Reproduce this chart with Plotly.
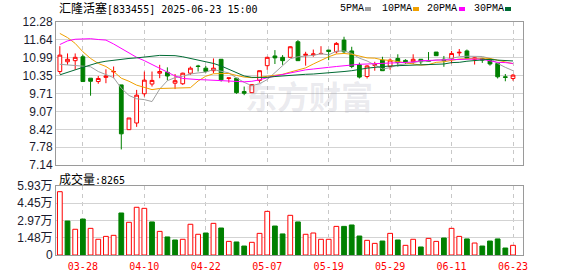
import plotly.graph_objects as go

# ---------------- data ----------------
dates = ["03-25", "03-26", "03-27", "03-28", "03-31", "04-01", "04-02", "04-03", "04-07", "04-08",
         "04-09", "04-10", "04-11", "04-14", "04-15", "04-16", "04-17", "04-18", "04-21", "04-22",
         "04-23", "04-24", "04-25", "04-28", "04-29", "04-30", "05-06", "05-07", "05-08", "05-09",
         "05-12", "05-13", "05-14", "05-15", "05-16", "05-19", "05-20", "05-21", "05-22", "05-23",
         "05-26", "05-27", "05-28", "05-29", "05-30", "06-03", "06-04", "06-05", "06-06", "06-09",
         "06-10", "06-11", "06-12", "06-13", "06-16", "06-17", "06-18", "06-19", "06-20", "06-23"]

opens = [10.50, 10.85, 10.89, 11.03, 10.26, 10.14, 10.29, 10.49, 10.02, 8.41,
         8.65, 9.70, 10.05, 10.44, 10.47, 10.08, 10.06, 10.44, 10.70, 10.62,
         10.53, 10.94, 10.25, 10.26, 9.78, 9.74, 10.18, 10.71, 11.06, 11.01,
         11.01, 11.57, 11.08, 11.10, 11.14, 11.27, 11.21, 11.63, 11.24, 10.74,
         10.32, 10.72, 10.91, 10.68, 10.97, 10.90, 10.85, 10.94, 10.89, 11.20,
         10.94, 10.97, 11.17, 11.24, 10.94, 10.97, 10.94, 10.79, 10.31, 10.25]
highs = [11.41, 11.15, 11.15, 11.10, 10.26, 10.34, 10.58, 10.68, 10.02, 8.83,
         9.84, 10.50, 10.50, 10.74, 10.65, 10.41, 10.46, 10.68, 10.74, 10.70,
         10.97, 10.94, 10.27, 10.27, 9.96, 10.03, 10.53, 11.03, 11.27, 11.09,
         11.41, 11.63, 11.21, 11.29, 11.41, 11.27, 11.56, 11.75, 11.39, 10.82,
         10.73, 10.85, 11.03, 10.97, 11.12, 10.94, 11.12, 10.94, 11.20, 11.20,
         11.06, 11.24, 11.31, 11.29, 11.01, 10.99, 10.97, 10.82, 10.41, 10.41]
lows = [10.41, 10.74, 10.56, 10.14, 9.63, 10.06, 10.08, 10.26, 7.70, 8.41,
        8.51, 9.60, 9.96, 10.26, 10.18, 9.87, 10.02, 10.38, 10.50, 10.46,
        10.44, 10.14, 10.10, 9.70, 9.65, 9.74, 10.10, 10.56, 10.77, 10.74,
        11.01, 10.89, 10.71, 11.03, 11.12, 10.91, 11.15, 11.15, 10.62, 10.25,
        10.25, 10.53, 10.53, 10.56, 10.68, 10.77, 10.77, 10.77, 10.85, 11.07,
        10.67, 10.79, 11.06, 10.96, 10.75, 10.81, 10.71, 10.25, 10.15, 10.17]
closes = [11.09, 10.94, 11.01, 10.14, 10.15, 10.25, 10.34, 10.50, 8.26, 8.83,
          9.65, 10.19, 10.18, 10.50, 10.34, 10.17, 10.44, 10.62, 10.68, 10.50,
          10.62, 10.20, 10.27, 9.74, 9.72, 10.03, 10.53, 11.01, 10.99, 10.89,
          11.39, 10.89, 11.12, 11.13, 11.15, 11.22, 11.51, 11.21, 10.68, 10.30,
          10.70, 10.75, 10.53, 10.91, 10.82, 10.85, 10.94, 10.85, 10.87, 11.07,
          10.89, 11.15, 11.19, 10.97, 10.99, 10.91, 10.77, 10.31, 10.29, 10.37]

# volume in 万 (10k shares)
volumes = [5.44, 2.92, 2.21, 3.09, 2.29, 1.35, 1.60, 1.69, 3.61, 2.81,
           4.10, 4.01, 2.84, 2.03, 1.55, 1.29, 1.35, 2.64, 1.78, 1.89,
           2.72, 2.32, 1.17, 1.12, 0.77, 1.09, 1.86, 3.75, 2.49, 1.81,
           3.41, 2.84, 1.78, 1.89, 1.35, 1.35, 2.46, 2.46, 2.58, 1.63,
           1.26, 1.00, 1.20, 1.86, 1.29, 0.83, 1.35, 0.69, 1.43, 1.17,
           1.46, 2.29, 1.60, 1.38, 1.03, 0.77, 1.20, 1.38, 0.60, 0.83]

ma5 = [10.76, 10.74, 10.72, 10.71, 10.67, 10.50, 10.38, 10.28, 9.90, 9.64,
       9.52, 9.49, 9.42, 9.87, 10.17, 10.28, 10.33, 10.41, 10.45, 10.48,
       10.57, 10.52, 10.45, 10.27, 10.11, 9.99, 10.06, 10.21, 10.46, 10.69,
       10.96, 11.03, 11.06, 11.08, 11.14, 11.10, 11.23, 11.24, 11.15, 10.98,
       10.88, 10.73, 10.59, 10.64, 10.74, 10.77, 10.81, 10.87, 10.87, 10.92,
       10.92, 10.97, 11.03, 11.05, 11.04, 11.04, 10.97, 10.79, 10.65, 10.53]
ma10 = [11.87, 11.72, 11.51, 11.21, 10.97, 10.79, 10.68, 10.50, 10.26, 10.15,
        10.01, 9.93, 9.85, 9.89, 9.90, 9.90, 9.91, 9.92, 10.16, 10.33,
        10.42, 10.43, 10.43, 10.36, 10.30, 10.28, 10.29, 10.33, 10.36, 10.40,
        10.48, 10.55, 10.63, 10.77, 10.91, 11.03, 11.13, 11.15, 11.12, 11.06,
        10.99, 10.98, 10.92, 10.90, 10.86, 10.83, 10.77, 10.73, 10.75, 10.83,
        10.85, 10.89, 10.95, 10.96, 10.98, 10.98, 10.97, 10.91, 10.85, 10.78]
ma20 = [11.47, 11.60, 11.66, 11.68, 11.68, 11.65, 11.63, 11.49, 11.33, 11.15,
        11.01, 10.89, 10.75, 10.60, 10.49, 10.34, 10.25, 10.22, 10.21, 10.20,
        10.19, 10.16, 10.15, 10.14, 10.13, 10.15, 10.20, 10.28, 10.34, 10.40,
        10.46, 10.52, 10.56, 10.59, 10.63, 10.65, 10.68, 10.71, 10.74, 10.76,
        10.77, 10.78, 10.79, 10.81, 10.82, 10.83, 10.84, 10.89, 10.90, 10.91,
        10.93, 10.94, 10.94, 10.95, 10.95, 10.94, 10.88, 10.83, 10.82, 10.79]
ma30 = [10.38, 10.46, 10.56, 10.65, 10.74, 10.82, 10.87, 10.91, 10.95, 10.97,
        10.99, 11.01, 11.05, 11.08, 11.08, 11.07, 11.03, 10.97, 10.91, 10.85,
        10.79, 10.70, 10.58, 10.46, 10.34, 10.29, 10.29, 10.29, 10.32, 10.34,
        10.38, 10.40, 10.40, 10.41, 10.43, 10.44, 10.46, 10.50, 10.53, 10.58,
        10.62, 10.65, 10.68, 10.70, 10.71, 10.72, 10.74, 10.74, 10.74, 10.76,
        10.77, 10.82, 10.83, 10.87, 10.90, 10.93, 10.94, 10.91, 10.90, 10.88]

price_ticks = [7.14, 7.78, 8.42, 9.07, 9.71, 10.35, 10.99, 11.64, 12.28]
price_ticktext = ["7.14", "7.78", "8.42", "9.07", "9.71", "10.35", "10.99", "11.64", "12.28"]
vol_ticks = [0, 1.48, 2.97, 4.45, 5.93]
vol_ticktext = ["0", "1.48万", "2.97万", "4.45万", "5.93万"]
date_ticks = ["03-28", "04-10", "04-22", "05-07", "05-19", "05-29", "06-11", "06-23"]

stock_name = "汇隆活塞"
stock_info = "[833455] 2025-06-23 15:00"
vol_label = "成交量"
vol_last = ":8265"
ma_names = ["5PMA", "10PMA", "20PMA", "30PMA"]

# ---------------- styles ----------------
RED = "#FF0000"
GREEN = "#008000"
MA_COLORS = ["#A0A0A0", "#F0A000", "#FF00FF", "#006B33"]
GRID = "#D3D3D3"
FRAME = "#9A9A9A"

# plot-area geometry (pixels)
L, R, T, B = 56, 523, 22, 255
W, H = R - L, B - T


def px(x):
    return (x - L) / W


def py(y):
    return (B - y) / H


fig = go.Figure()

fig.add_trace(go.Candlestick(
    x=dates, open=opens, high=highs, low=lows, close=closes,
    xaxis="x", yaxis="y",
    increasing=dict(line=dict(color=RED, width=1), fillcolor="#FFFFFF"),
    decreasing=dict(line=dict(color=GREEN, width=1), fillcolor=GREEN),
    whiskerwidth=0, showlegend=False, hoverinfo="skip",
))

for vals, col in zip([ma5, ma10, ma20, ma30], MA_COLORS):
    fig.add_trace(go.Scatter(x=dates, y=vals, mode="lines", xaxis="x", yaxis="y",
                             line=dict(color=col, width=1), showlegend=False,
                             hoverinfo="skip"))

vol_up = [i == 0 or closes[i] >= closes[i - 1] for i in range(len(closes))]
fig.add_trace(go.Bar(
    x=dates, y=volumes, xaxis="x2", yaxis="y2", width=0.62,
    marker=dict(color=["#FFFFFF" if u else GREEN for u in vol_up],
                line=dict(color=[RED if u else GREEN for u in vol_up], width=1)),
    showlegend=False, hoverinfo="skip",
))

xcommon = dict(type="category", range=[-0.5, 60.3], tickmode="array", tickvals=date_ticks,
               showgrid=True, gridcolor="#C8C8C8", griddash="4px,4px", gridwidth=1,
               showline=True, mirror=True, linecolor=FRAME, linewidth=1, ticks="",
               zeroline=False, fixedrange=True, automargin=False)

fig.update_layout(
    width=578, height=276, autosize=False,
    margin=dict(l=L, r=578 - R, t=T, b=276 - B, pad=0),
    paper_bgcolor="#FFFFFF", plot_bgcolor="#FFFFFF",
    showlegend=False,
    xaxis=dict(domain=[0, 1], anchor="y", showticklabels=False,
               rangeslider=dict(visible=False), **xcommon),
    xaxis2=dict(domain=[0, 1], anchor="y2", matches="x", showticklabels=True,
                ticklabelstandoff=2,
                tickfont=dict(family="DejaVu Sans Mono", size=10, color=RED),
                rangeslider=dict(visible=False), **xcommon),
    yaxis=dict(domain=[py(165), 1], range=[7.14, 12.28], tickmode="array",
               tickvals=price_ticks, ticktext=price_ticktext, automargin=False,
               showgrid=True, gridcolor=GRID, gridwidth=1, zeroline=False,
               showline=True, mirror=True, linecolor=FRAME, ticks="",
               tickfont=dict(family="Liberation Sans", size=12, color="#1A1A2E")),
    yaxis2=dict(domain=[0, py(186)], range=[0, 5.93], tickmode="array",
                tickvals=vol_ticks, ticktext=vol_ticktext, automargin=False,
                showgrid=True, gridcolor=GRID, gridwidth=1, zeroline=False,
                showline=True, mirror=True, linecolor=FRAME, ticks="",
                tickfont=dict(family="Liberation Sans, Noto Sans CJK SC", size=12, color="#1A1A2E")),
    bargap=0.3,
)

annotations = []
# title
annotations.append(dict(
    xref="paper", yref="paper", x=px(57), y=py(8), xanchor="left", yanchor="middle",
    text=stock_name + '<span style="font-family:DejaVu Sans Mono;font-size:10px">' + stock_info + "</span>",
    showarrow=False, font=dict(family="Noto Sans CJK SC", size=12, color="#000000")))
# volume label
annotations.append(dict(
    xref="paper", yref="paper", x=px(57), y=py(178), xanchor="left", yanchor="middle",
    text=vol_label + '<span style="font-family:DejaVu Sans Mono;font-size:10px">' + vol_last + "</span>",
    showarrow=False, font=dict(family="Noto Sans CJK SC", size=12, color="#000000")))
# watermark
annotations.append(dict(
    xref="paper", yref="paper", x=px(309), y=py(95), xanchor="center", yanchor="middle",
    text="东方财富", showarrow=False,
    font=dict(family="Noto Sans CJK SC", size=32, color="rgba(150,150,170,0.2)", weight=700)))

# MA legend
legend_text_x = [338, 380, 425, 472]
legend_box_x = [365, 413, 459, 505]
shapes = []
for name, tx, bx, col in zip(ma_names, legend_text_x, legend_box_x, MA_COLORS):
    annotations.append(dict(
        xref="paper", yref="paper", x=px(tx), y=py(9), xanchor="left", yanchor="middle",
        text=name, showarrow=False,
        font=dict(family="Liberation Mono", size=10, color="#000000")))
    shapes.append(dict(type="rect", xref="paper", yref="paper",
                       x0=px(bx), x1=px(bx + 6), y0=py(11), y1=py(7),
                       fillcolor=col, line=dict(width=0)))

fig.update_layout(annotations=annotations, shapes=shapes)

fig.write_html("out.html")
